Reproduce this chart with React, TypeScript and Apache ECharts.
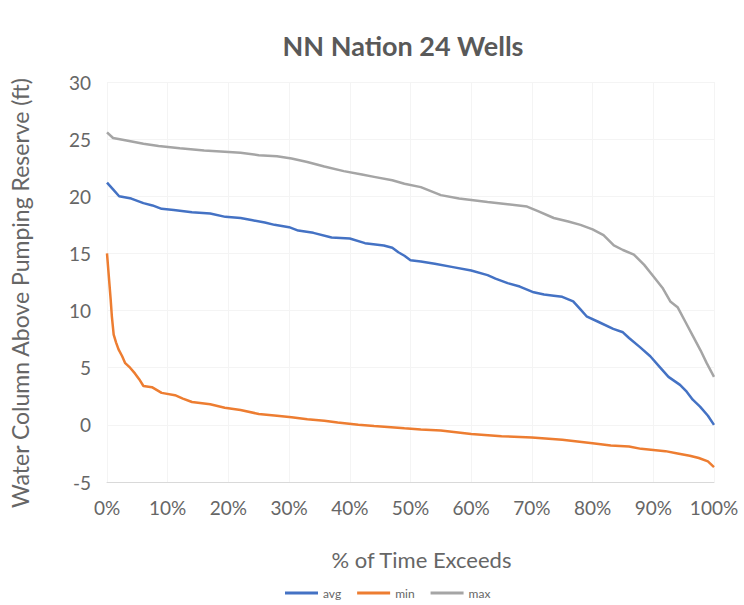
import React, { useEffect, useRef } from "react";
import * as echarts from "echarts";

const titleText = "NN Nation 24 Wells";
const xAxisName = "% of Time Exceeds";
const yAxisName = "Water Column Above Pumping Reserve (ft)";
const seriesNames = ["avg", "min", "max"];
const seriesColors = ["#4472C4", "#ED7D31", "#A5A5A5"];

const avgPct = [0, 1, 2, 4, 6, 7.5, 9, 11, 14, 17, 19.5, 22, 24, 26, 27.6, 30, 31.5, 34, 37, 40, 42.5, 45.6, 47, 48, 49, 50, 51.7, 54, 57, 60, 62.7, 64, 66, 68, 70.3, 72, 73.6, 75, 76.8, 78, 79, 81, 83.4, 85, 86, 87.8, 89.5, 91, 92.5, 94.4, 95.5, 96.5, 97.7, 99, 100];
const avgVal = [21.2, 20.6, 20.0, 19.8, 19.4, 19.2, 18.9, 18.8, 18.6, 18.5, 18.2, 18.1, 17.9, 17.7, 17.5, 17.3, 17.0, 16.8, 16.4, 16.3, 15.9, 15.7, 15.5, 15.1, 14.8, 14.4, 14.3, 14.1, 13.8, 13.5, 13.1, 12.8, 12.4, 12.1, 11.6, 11.4, 11.3, 11.2, 10.8, 10.1, 9.5, 9.0, 8.4, 8.1, 7.6, 6.8, 6.0, 5.1, 4.2, 3.5, 2.9, 2.2, 1.6, 0.8, 0.0];

const minPct = [0, 0.3, 0.6, 0.8, 1.1, 1.5, 1.9, 2.5, 3, 3.8, 4.6, 5.3, 6, 7.4, 9, 11.2, 12.5, 14, 17, 19.4, 22, 25, 28, 30.4, 33, 35.8, 38, 41.4, 44, 46.8, 49, 51.7, 55, 60, 65, 70, 75, 80, 83, 86, 88, 90, 92, 94, 96, 97.5, 99, 100];
const minVal = [15.0, 13.0, 11.0, 9.5, 7.9, 7.2, 6.6, 6.0, 5.4, 5.0, 4.5, 4.0, 3.4, 3.3, 2.8, 2.6, 2.3, 2.0, 1.8, 1.5, 1.3, 0.95, 0.8, 0.66, 0.5, 0.36, 0.2, 0.0, -0.1, -0.2, -0.3, -0.4, -0.5, -0.8, -1.0, -1.1, -1.3, -1.6, -1.8, -1.9, -2.1, -2.2, -2.3, -2.5, -2.7, -2.9, -3.2, -3.7];

const maxPct = [0, 1, 3, 6, 8.5, 12, 16, 19.4, 22, 25, 28, 30.4, 33, 35.8, 39, 42, 44, 47, 49, 51.7, 55, 58, 62.7, 66, 69.2, 71, 73.6, 76, 78, 80, 81.8, 83.5, 85, 86.8, 88.5, 90, 91.5, 92.8, 94, 95.3, 96.6, 97.8, 98.8, 100];
const maxVal = [25.6, 25.1, 24.9, 24.6, 24.4, 24.2, 24.0, 23.9, 23.8, 23.6, 23.5, 23.3, 23.0, 22.6, 22.2, 21.9, 21.7, 21.4, 21.1, 20.8, 20.1, 19.8, 19.5, 19.3, 19.1, 18.7, 18.1, 17.8, 17.5, 17.1, 16.6, 15.7, 15.3, 14.9, 14.0, 13.0, 12.0, 10.8, 10.3, 9.0, 7.7, 6.5, 5.4, 4.2];

const FONT = "Lato, 'Open Sans', sans-serif";
const TITLE_COLOR = "#595959";
const TEXT = "#666666";

const zip = (xs: number[], ys: number[]) => xs.map((x, i) => [x, ys[i]]);

export default function App() {
  const ref = useRef<HTMLDivElement>(null);
  useEffect(() => {
    if (!ref.current) return;
    const chart = echarts.init(ref.current, undefined, { renderer: "svg" });
    const datasets = [zip(avgPct, avgVal), zip(minPct, minVal), zip(maxPct, maxVal)];
    chart.setOption({
      animation: false,
      backgroundColor: "#ffffff",
      textStyle: { fontFamily: FONT },
      title: {
        text: titleText,
        left: 398,
        textAlign: "center",
        top: 27,
        textStyle: { fontFamily: FONT, fontSize: 27, fontWeight: "bold", color: TITLE_COLOR },
      },
      legend: {
        data: seriesNames,
        bottom: 1,
        left: 280,
        icon: "rect",
        itemWidth: 33,
        itemHeight: 3,
        itemGap: 16,
        textStyle: { fontFamily: FONT, fontSize: 12, color: TEXT },
      },
      grid: { left: 105, right: 30, top: 82, bottom: 123 },
      xAxis: {
        type: "value",
        min: 0,
        max: 100,
        interval: 10,
        name: xAxisName,
        nameLocation: "middle",
        nameGap: 66,
        nameTextStyle: { fontFamily: FONT, fontSize: 22, color: TEXT, padding: [0, 0, 0, 22] },
        axisLine: { show: true, onZero: false, lineStyle: { color: "#d9d9d9", width: 1 } },
        axisTick: { show: false },
        axisLabel: { formatter: "{value}%", fontFamily: FONT, fontSize: 19, color: TEXT, margin: 16 },
        splitLine: { show: true, lineStyle: { color: "#f4f4f4", width: 1 } },
      },
      yAxis: {
        type: "value",
        min: -5,
        max: 30,
        interval: 5,
        name: yAxisName,
        nameLocation: "middle",
        nameGap: 76,
        nameTextStyle: { fontFamily: FONT, fontSize: 23, color: TEXT, padding: [0, 22, 0, 0] },
        axisLine: { show: false },
        axisTick: { show: false },
        axisLabel: { fontFamily: FONT, fontSize: 19, color: TEXT, margin: 16 },
        splitLine: { show: true, lineStyle: { color: "#f4f4f4", width: 1 } },
      },
      series: seriesNames.map((name, i) => ({
        name,
        type: "line",
        data: datasets[i],
        showSymbol: false,
        symbol: "none",
        lineStyle: { color: seriesColors[i], width: 2.5 },
        itemStyle: { color: seriesColors[i] },
      })),
    });
    return () => chart.dispose();
  }, []);
  return <div ref={ref} style={{ position: "absolute", left: 0, top: 0, width: 744, height: 605 }} />;
}
